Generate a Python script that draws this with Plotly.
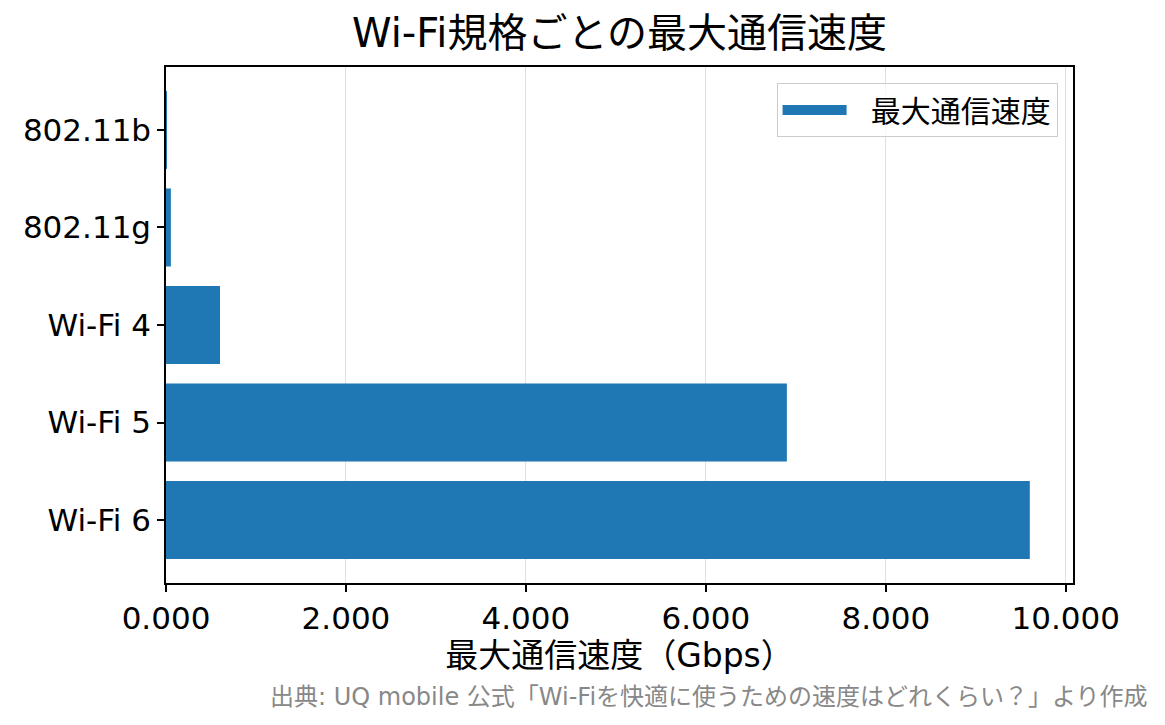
import plotly.graph_objects as go

# Wi-Fi standards and their max speed (Gbps)
standards = ['802.11b', '802.11g', 'Wi-Fi 4', 'Wi-Fi 5', 'Wi-Fi 6']
max_speed = [0.011, 0.054, 0.6, 6.9, 9.6]
x_ticks = [0, 2, 4, 6, 8, 10]

bar_color = '#1f77b4'
font_family = 'DejaVu Sans, Noto Sans CJK JP, sans-serif'

# page body adds an 8px offset, so margins are pulled back by that much
off = 8
plot_l, plot_r, plot_t, plot_b = 166, 1073, 67, 583

fig = go.Figure()

fig.add_trace(go.Bar(
    x=max_speed, y=standards, orientation='h', width=0.8,
    marker=dict(color=bar_color, line=dict(width=0)),
    showlegend=False, name='最大通信速度'))

# legend-only entry so the swatch looks like a wide patch
fig.add_trace(go.Scatter(
    x=[None], y=[None], mode='lines', name='\u00a0\u00a0最大通信速度',
    line=dict(color=bar_color, width=20)))

fig.update_layout(
    width=1165, height=725,
    margin=dict(l=plot_l - off, r=1165 - plot_r + off, t=plot_t - off, b=725 - plot_b + off),
    paper_bgcolor='white', plot_bgcolor='white',
    font=dict(family=font_family, color='black', size=30),
    title=dict(text='Wi-Fi規格ごとの最大通信速度', x=0.5, xref='paper', xanchor='center',
               y=1 - (33 - off) / 725, yanchor='middle', font=dict(size=40)),
    legend=dict(x=0.983, y=1 - (83 - plot_t) / (plot_b - plot_t), xanchor='right', yanchor='top',
                bordercolor='#cccccc', borderwidth=1, bgcolor='rgba(255,255,255,0.8)',
                font=dict(size=30), itemwidth=64),
    bargap=0.2,
)

fig.update_xaxes(
    range=[0, 10.08], tickvals=x_ticks, tickformat='.3f',
    showgrid=True, gridcolor='#e0e0e0', gridwidth=1, zeroline=False,
    showline=True, linecolor='black', linewidth=1.5, mirror=True,
    ticks='outside', ticklen=7, tickwidth=1.5, tickcolor='black',
    tickfont=dict(size=31),
    title=dict(text='最大通信速度（Gbps）', font=dict(size=33), standoff=4),
)
fig.update_yaxes(
    type='category', categoryorder='array', categoryarray=standards,
    range=[4.645, -0.645], showgrid=False, zeroline=False,
    showline=True, linecolor='black', linewidth=1.5, mirror=True,
    ticks='outside', ticklen=7, tickwidth=1.5, tickcolor='black',
    tickfont=dict(size=31),
)

fig.add_annotation(
    text='出典: UQ mobile 公式「Wi-Fiを快適に使うための速度はどれくらい？」より作成',
    xref='paper', yref='paper',
    x=(1150 - plot_l) / (plot_r - plot_l), y=(plot_b - 697) / (plot_b - plot_t),
    xanchor='right', yanchor='middle', showarrow=False,
    font=dict(size=24, color='#888888'))

fig.write_html("out.html")
